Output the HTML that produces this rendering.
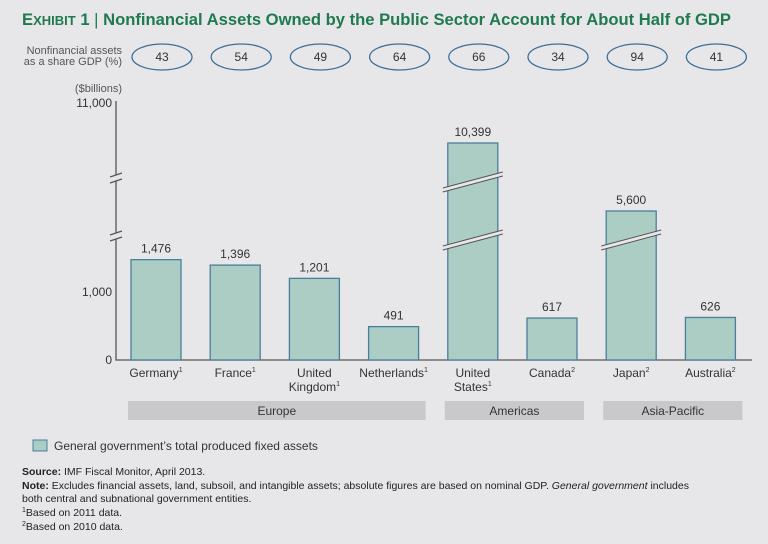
<!DOCTYPE html>
<html><head><meta charset="utf-8"><style>
body{margin:0;background:#e7e7e9;font-family:"Liberation Sans",sans-serif;}
#wrap{position:relative;width:768px;height:544px;overflow:hidden;background:#e7e7e9}
</style></head><body><div id="wrap">
<svg id="c" width="768" height="544" font-family="Liberation Sans, sans-serif"></svg>
</div>
<script>
const categories=["Germany","France","United|Kingdom","Netherlands","United|States","Canada","Japan","Australia"];
const sups=["1","1","1","1","1","2","2","2"];
const values=[1476,1396,1201,491,10399,617,5600,626];
const shares=[43,54,49,64,66,34,94,41];
const brokenBars=[false,false,false,false,true,false,true,false];
const yTickValues=[0,1000,11000];
const yTickLabels=["0","1,000","11,000"];
const regions=["Europe","Americas","Asia-Pacific"];
const regionSpans=[[0,3],[4,5],[6,7]];
const NS="http://www.w3.org/2000/svg";
const svg=document.getElementById('c');
function mk(t,a,txt){const e=document.createElementNS(NS,t);for(const k in a)e.setAttribute(k,a[k]);if(txt!==undefined)e.textContent=txt;svg.appendChild(e);return e;}
// piecewise y scale (axis broken)
const dK=[0,1824,5600,10400,11000],rK=[360,236,211,143,103];
function y(v){for(let i=1;i<dK.length;i++){if(v<=dK[i]||i==dK.length-1){const t=(v-dK[i-1])/(dK[i]-dK[i-1]);return rK[i-1]+t*(rK[i]-rK[i-1]);}}}
function x(i){return 131+i*79.2;}
const bw=50;
let t=mk('text',{x:22,y:25,fill:'#1f7a4f','font-size':16.6,'font-weight':'bold'});

t.innerHTML='<tspan>E</tspan><tspan font-size="13">XHIBIT</tspan> 1 <tspan font-weight="normal">|</tspan> Nonfinancial Assets Owned by the Public Sector Account for About Half of GDP';
let s=mk('text',{x:122,y:54,'font-size':11,fill:'#555','text-anchor':'end'},'Nonfinancial assets');

mk('text',{x:122,y:65,'font-size':11,fill:'#555','text-anchor':'end'},'as a share GDP (%)');
let u=mk('text',{x:122,y:92,'font-size':11,fill:'#555','text-anchor':'end'},'($billions)');

let ax=mk('path',{d:'M116,101V175M116,181V233M116,239V360H752',stroke:'#555','stroke-width':1.3,fill:'none'});

[178,236].forEach(yy=>{mk('path',{d:`M110,${yy-1}L122,${yy-5}M110,${yy+5}L122,${yy+1}`,stroke:'#555','stroke-width':1.2});});
yTickValues.forEach((v,i)=>{let e=mk('text',{x:112,y:y(v)+4,'font-size':12,fill:'#333','text-anchor':'end'},yTickLabels[i]);
});
values.forEach((v,i)=>{
 const cx=x(i)+bw/2,top=y(v);
 let b=mk('rect',{x:x(i),y:top,width:bw,height:360-top,fill:'#abcdc4',stroke:'#4a7f9a','stroke-width':1.3});
 
 let l=mk('text',{x:cx,y:top-7,'font-size':12,fill:'#333','text-anchor':'middle'},v.toLocaleString('en-US'));
 
 if(brokenBars[i]){
  const bks=v>6600?[178,236]:[236];
  bks.forEach(yy=>{const x0=x(i)-5,x1=x(i)+bw+5;
   mk('polygon',{points:`${x0},${yy+10} ${x1},${yy-6} ${x1},${yy-2} ${x0},${yy+14}`,fill:'#e7e7e9'});
   mk('path',{d:`M${x0},${yy+10}L${x1},${yy-6}M${x0},${yy+14}L${x1},${yy-2}`,stroke:'#555','stroke-width':1});});
 }
 const parts=categories[i].split('|');
 parts.forEach((p,j)=>{let c=mk('text',{x:cx,y:377+j*14,'font-size':12,fill:'#333','text-anchor':'middle'});
  
  c.textContent=p;if(j==parts.length-1){const sp=document.createElementNS(NS,'tspan');sp.setAttribute('font-size',7);sp.setAttribute('dy',-5);sp.textContent=sups[i];c.appendChild(sp);}});
 let o=mk('ellipse',{cx:cx+6,cy:57,rx:30,ry:13,fill:'none',stroke:'#3d6f96','stroke-width':1.3});
 
 let ot=mk('text',{x:cx+6,y:61,'font-size':12,fill:'#333','text-anchor':'middle'},shares[i]);
 
});
regions.forEach((r,k)=>{const a=x(regionSpans[k][0])-3,b=x(regionSpans[k][1])+bw+7;
 let rr=mk('rect',{x:a,y:401,width:b-a,height:19,fill:'#c9c9cc'});
 let tt=mk('text',{x:(a+b)/2,y:415,'font-size':12,fill:'#333','text-anchor':'middle'},r);});
let lg=mk('rect',{x:33,y:440,width:14,height:11,fill:'#abcdc4',stroke:'#4a7f9a'});
let lt=mk('text',{x:54,y:450,'font-size':12,fill:'#333'},'General government’s total produced fixed assets');
const notes=[['<tspan font-weight="bold">Source:</tspan> IMF Fiscal Monitor, April 2013.',475],
['<tspan font-weight="bold">Note:</tspan> Excludes financial assets, land, subsoil, and intangible assets; absolute figures are based on nominal GDP. <tspan font-style="italic">General government</tspan> includes',489],
['both central and subnational government entities.',502],
['<tspan font-size="7" dy="-4">1</tspan><tspan dy="4">Based on 2011 data.</tspan>',516],
['<tspan font-size="7" dy="-4">2</tspan><tspan dy="4">Based on 2010 data.</tspan>',530]];
notes.forEach(n=>{let e=mk('text',{x:22,y:n[1],'font-size':10.5,fill:'#222'});e.innerHTML=n[0];});
</script></body></html>
